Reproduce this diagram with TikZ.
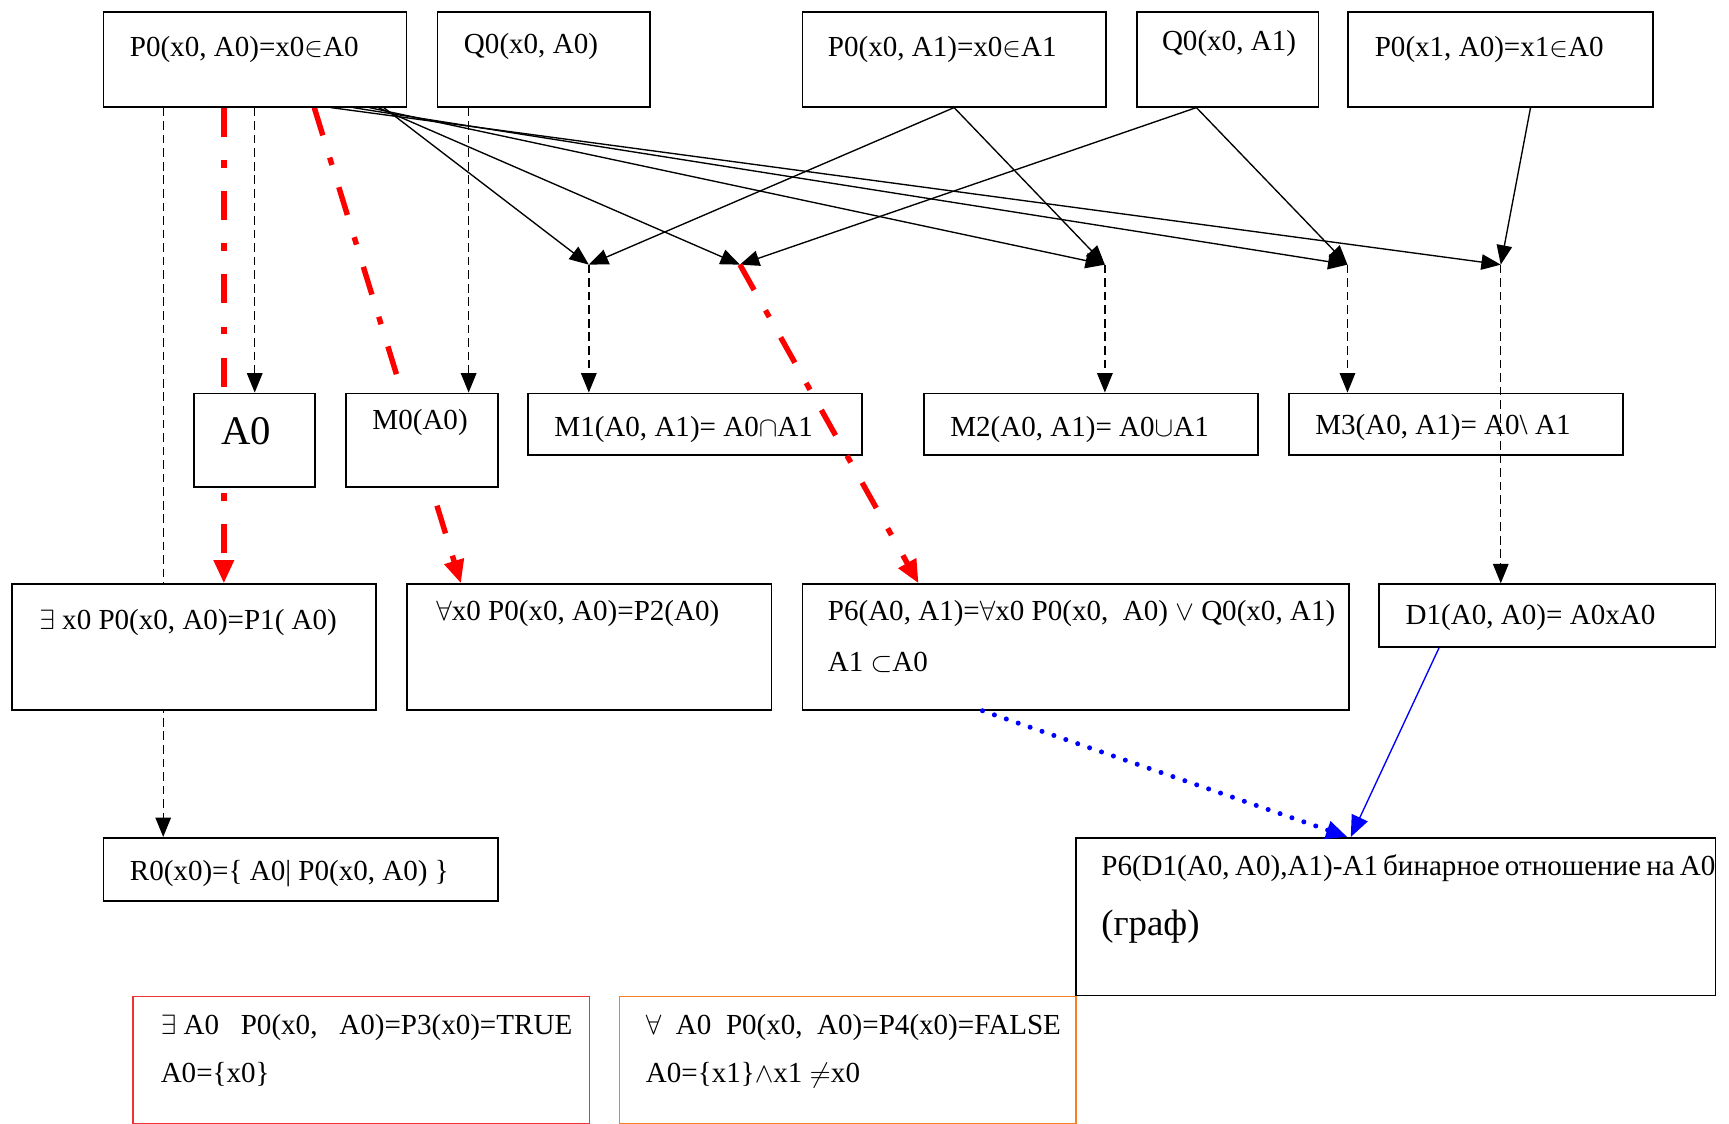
\documentclass[tikz,border=0pt]{standalone}
\usepackage{fontspec}
\setmainfont{Liberation Serif}
\usetikzlibrary{arrows.meta,calc}
\pgfdeclarelayer{background}
\pgfsetlayers{background,main}
\definecolor{boxred}{RGB}{240,50,50}
\definecolor{boxorange}{RGB}{245,128,40}
\newlength\upx
\setlength\upx{0.2mm}
\newcommand\bt[5]{\begin{minipage}[t][#2\upx][t]{#1\upx}\setlength\parindent{0pt}\setlength\leftskip{#3\upx}\rule{0pt}{#4\upx}#5\end{minipage}}
\newcommand\fsk[1]{\fontsize{15pt}{#1\upx}\selectfont}
\begin{document}
\begin{tikzpicture}[x=0.02cm,y=-0.02cm,
  box/.style={draw, line width=0.9pt, fill=white, anchor=north west, inner sep=0pt, font=\fontsize{15pt}{18pt}\selectfont},
  arr/.style={-{Triangle[length=10pt,width=8pt]}, line width=0.7pt},
  dsh/.style={arr, dash pattern=on 4.5pt off 2.5pt},
  redl/.style={draw=red, line width=2.8pt, dash pattern=on 15pt off 12pt on 4pt off 12pt, -{Triangle[length=12pt,width=10pt]}},
  bdot/.style={draw=blue, line width=2.6pt, line cap=round, dash pattern=on 0pt off 6.5pt, -{Triangle[length=11pt,width=9pt]}},
  bsol/.style={draw=blue, line width=0.7pt, -{Triangle[length=11pt,width=9pt]}}]
\useasboundingbox (0,0) rectangle (1568,1019);
% top row
\node[box] (p0a0) at (93,10) {\bt{275}{86}{24}{40}{P0(x0, A0)=x0$\in$A0}};
\node[box] (q0a0) at (396,10) {\bt{193}{86}{24}{38}{Q0(x0, A0)}};
\node[box] (p0a1) at (727,10) {\bt{275}{86}{23}{40}{P0(x0, A1)=x0$\in$A1}};
\node[box] (q0a1) at (1030,10) {\bt{165}{86}{23}{35}{Q0(x0, A1)}};
\node[box] (p0x1) at (1222,10) {\bt{276}{86}{24}{40}{P0(x1, A0)=x1$\in$A0}};
% second row
\node[box] (a0) at (175,356) {\bt{110}{85}{25}{46}{\fontsize{21pt}{24pt}\selectfont A0}};
\node[box] (m0) at (313,356) {\bt{138}{85}{24}{33}{M0(A0)}};
\node[box] (m1) at (478,356) {\bt{303}{56}{24}{39}{M1(A0, A1)= A0$\cap$A1}};
\node[box] (m2) at (837,356) {\bt{303}{56}{24}{39}{M2(A0, A1)= A0$\cup$A1}};
\node[box] (m3) at (1168,356) {\bt{303}{56}{24}{37}{M3(A0, A1)= A0\textbackslash\ A1}};
% third row
\node[box] (p1) at (10,529) {\bt{330}{114}{25}{41}{$\exists$ x0 P0(x0, A0)=P1( A0)}};
\node[box] (p2) at (368,529) {\bt{331}{114}{27}{33}{$\forall$x0 P0(x0, A0)=P2(A0)}};
\node[box] (p6) at (727,529) {\bt{496}{114}{23}{33}{\fsk{46}P6(A0, A1)=$\forall$x0 P0(x0,\ \ A0) $\vee$ Q0(x0, A1)\\A1 $\subset$A0}};
\node[box] (d1) at (1250,529) {\bt{305}{57}{24}{37}{D1(A0, A0)= A0xA0}};
% fourth row
\node[box] (r0) at (93,759) {\bt{358}{57}{24}{39}{R0(x0)=\{ A0| P0(x0, A0) \}}};
\node[box] (p6d) at (975,759) {\bt{580}{143}{23}{34}{\fsk{55}P6(D1(A0, A0),A1)-A1 бинарное отношение на A0\\{\fontsize{19pt}{55\upx}\selectfont (граф)}}};
% bottom
\node[box, draw=boxred] (p3) at (120,903) {\bt{414}{115}{25}{34}{\fsk{44}$\exists$ A0\ \ \ P0(x0,\ \ \ A0)=P3(x0)=TRUE\\A0=\{x0\}}};
\node[box, draw=boxorange] (p4) at (561,903) {\bt{414}{115}{24}{34}{\fsk{44}$\forall$\ \ A0\ \ P0(x0,\ \ A0)=P4(x0)=FALSE\\A0=\{x1\}$\wedge$x1 $\neq$x0}};
% junctions
\coordinate (J1) at (534,240);
\coordinate (J2) at (671,240);
\coordinate (J4) at (1002,240);
\coordinate (J5) at (1222,240);
\coordinate (J3) at (1361,240);
% hidden lines
\begin{pgfonlayer}{background}
\draw[dsh] ($(p0a0.south west)+(55,0)$) -- ($(r0.north west)+(55,0)$);
\draw[redl] ($(p0a0.south west)+(110,0)$) -- ($(p1.north west)+(193,0)$);
\draw[redl] ($(p0a0.south west)+(192,0)$) -- ($(p2.north west)+(50,0)$);
\end{pgfonlayer}
% visible connectors
\draw[dsh] ($(p0a0.south west)+(138,0)$) -- ($(a0.north west)+(56,0)$);
\draw[dsh] ($(q0a0.south west)+(29,0)$) -- ($(m0.north west)+(112,0)$);
\draw[arr] ($(p0a0.south west)+(255,0)$) -- (J1);
\draw[arr] ($(p0a0.south west)+(250,0)$) -- (J2);
\draw[arr] ($(p0a0.south west)+(242,0)$) -- (J4);
\draw[arr] ($(p0a0.south west)+(227,0)$) -- (J5);
\draw[arr] ($(p0a0.south west)+(207,0)$) -- (J3);
\draw[arr] (p0a1.south) -- (J1);
\draw[arr] (p0a1.south) -- (J4);
\draw[arr] ($(q0a1.south west)+(55,0)$) -- (J2);
\draw[arr] ($(q0a1.south west)+(55,0)$) -- (J5);
\draw[arr] ($(p0x1.south west)+(166,0)$) -- (J3);
\draw[dsh] (J1) -- ($(m1.north west)+(56,0)$);
\draw[dsh] (J4) -- ($(m2.north west)+(165,0)$);
\draw[dsh] (J5) -- ($(m3.north west)+(54,0)$);
\draw[dsh] (J3) -- ($(d1.north west)+(111,0)$);
\draw[redl] (J2) -- ($(p6.north west)+(106,0)$);
\draw[bdot] ($(p6.south west)+(164,0)$) -- ($(p6d.north west)+(247,0)$);
\draw[bsol] ($(d1.south west)+(55,0)$) -- ($(p6d.north west)+(250,0)$);
\end{tikzpicture}
\end{document}
